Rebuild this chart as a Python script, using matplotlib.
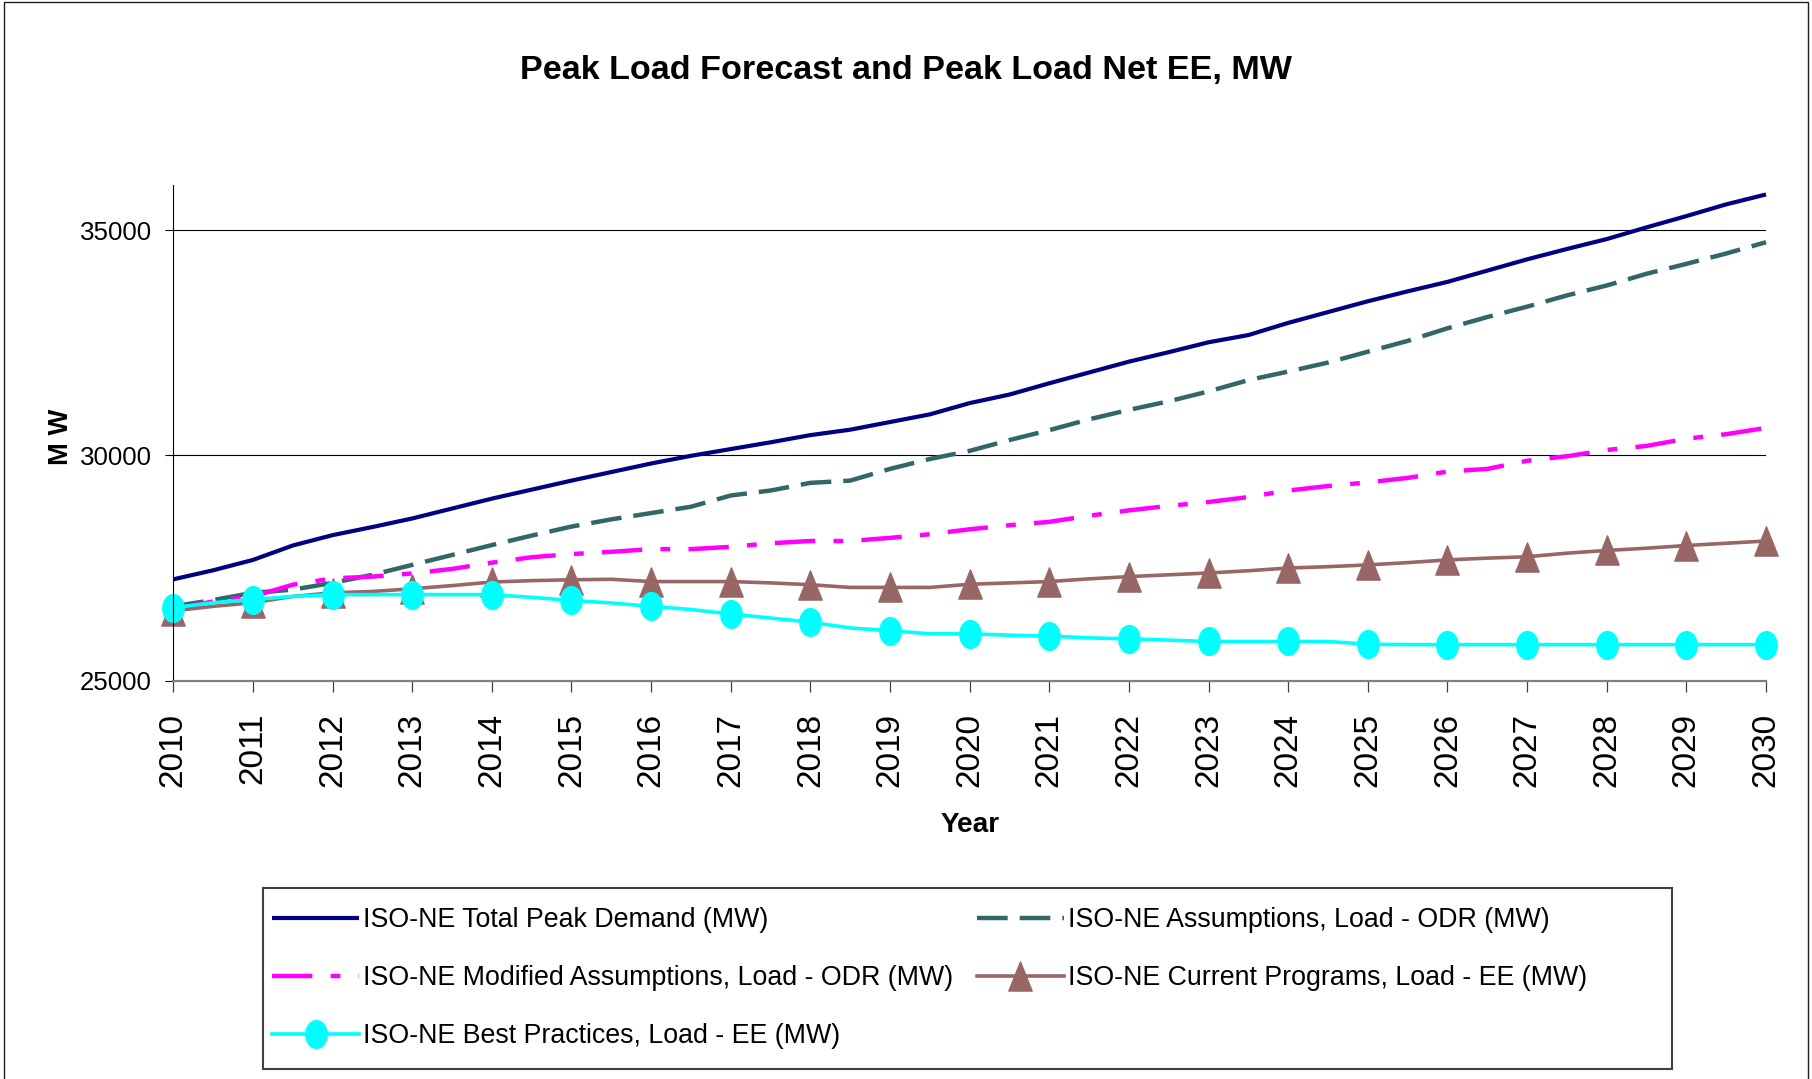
import numpy as np
import matplotlib
matplotlib.use("Agg")
import matplotlib.pyplot as plt
from matplotlib import font_manager as fm
from matplotlib.path import Path
from matplotlib.transforms import Affine2D
from matplotlib.patches import Rectangle

# ---------------- data ----------------
year_ticks = list(range(2010, 2031))
periods = np.arange(2010, 2030.5, 0.5)   # half-year category positions

total_peak = [27250, 27450, 27680, 28000, 28230, 28410, 28600, 28820, 29040, 29240,
              29440, 29630, 29820, 29990, 30140, 30290, 30450, 30570, 30740, 30910,
              31160, 31350, 31600, 31840, 32080, 32290, 32510, 32670, 32940, 33180,
              33420, 33640, 33850, 34100, 34350, 34580, 34800, 35060, 35310, 35570, 35790]

assumptions_odr = [26650, 26790, 26950, 27020, 27170, 27350, 27570, 27790, 28010, 28220,
                   28420, 28580, 28720, 28860, 29110, 29220, 29390, 29440, 29700, 29920,
                   30100, 30340, 30560, 30800, 31010, 31200, 31420, 31670, 31860, 32060,
                   32300, 32540, 32820, 33070, 33300, 33550, 33770, 34030, 34250, 34480, 34730]

modified_odr = [26580, 26760, 26870, 27130, 27270, 27310, 27380, 27480, 27620, 27740,
                27810, 27860, 27920, 27920, 27970, 28050, 28100, 28100, 28170, 28250,
                28360, 28450, 28525, 28660, 28780, 28880, 28965, 29075, 29220, 29320,
                29400, 29500, 29640, 29700, 29880, 29980, 30120, 30210, 30370, 30470, 30610]

current_ee = [26550, 26650, 26730, 26870, 26950, 26980, 27040, 27110, 27190, 27220,
              27240, 27250, 27200, 27200, 27200, 27170, 27130, 27070, 27070, 27070,
              27140, 27170, 27200, 27260, 27310, 27350, 27390, 27440, 27500, 27530,
              27570, 27620, 27680, 27720, 27750, 27830, 27890, 27940, 28000, 28050, 28100]

best_ee = [26620, 26730, 26800, 26870, 26910, 26910, 26910, 26910, 26910, 26850,
           26780, 26725, 26650, 26580, 26480, 26390, 26300, 26170, 26110, 26040,
           26040, 26010, 25990, 25950, 25930, 25900, 25870, 25870, 25870, 25870,
           25810, 25800, 25800, 25800, 25800, 25800, 25800, 25800, 25800, 25800, 25800]

labels = ["ISO-NE Total Peak Demand (MW)",
          "ISO-NE Assumptions, Load - ODR (MW)",
          "ISO-NE Modified Assumptions, Load - ODR (MW)",
          "ISO-NE Current Programs, Load - EE (MW)",
          "ISO-NE Best Practices, Load - EE (MW)"]

y_ticks = [25000, 30000, 35000]

# ---------------- fonts ----------------
names = {f.name for f in fm.fontManager.ttflist}
if "Liberation Sans Narrow" in names:
    NARROW, K = "Liberation Sans Narrow", 1.0
elif "Arial Narrow" in names:
    NARROW, K = "Arial Narrow", 1.0
else:
    NARROW, K = "Liberation Sans", 0.82
REG = "Liberation Sans" if "Liberation Sans" in names else "DejaVu Sans"

W, H = 1812, 1079
fig = plt.figure(figsize=(W / 100, H / 100), dpi=100)

def fx(px):
    return px / W

def fy(py):
    return 1 - py / H

ax = fig.add_axes([fx(173.3), fy(680.7), fx(1766) - fx(173.3), fy(185) - fy(680.7)])

# markers
ellipse = Path.unit_circle().transformed(Affine2D().scale(0.77, 1.0))
tri = Path([(0, 1), (-0.8, -1), (0.8, -1), (0, 1)],
           [Path.MOVETO, Path.LINETO, Path.LINETO, Path.CLOSEPOLY])

l1, = ax.plot(periods, total_peak, color="#000080", lw=3.0, solid_capstyle="butt",
              label=labels[0])
l2, = ax.plot(periods, assumptions_odr, color="#336666", lw=3.2,
              linestyle=(0, (6.9, 2.7)), dash_capstyle="butt", label=labels[1])
l3, = ax.plot(periods, modified_odr, color="#FF00FF", lw=3.2,
              linestyle=(0, (9.1, 4.1, 2.2, 4.1)), dash_capstyle="butt", label=labels[2])
l4, = ax.plot(periods, current_ee, color="#996666", lw=2.6, marker=tri, markersize=21,
              markevery=2, markerfacecolor="#996666", markeredgecolor="#996666",
              label=labels[3])
l5, = ax.plot(periods, best_ee, color="#00FFFF", lw=2.6, marker=ellipse, markersize=20,
              markevery=2, markerfacecolor="#00FFFF", markeredgecolor="#00FFFF",
              label=labels[4])
for ln in (l1, l2, l3, l4, l5):
    ln.set_clip_on(False)

ax.set_xlim(2010, 2030)
ax.set_ylim(25000, 36000)

ax.set_yticks(y_ticks)
ax.set_yticklabels([str(v) for v in y_ticks], fontsize=22.7 * K, family=NARROW)
ax.set_xticks(year_ticks)
ax.set_xticklabels([str(v) for v in year_ticks], rotation=90, fontsize=24, family=REG)

ax.tick_params(axis="y", direction="out", length=6, width=0.8, color="black", pad=9.4)
ax.tick_params(axis="x", direction="out", length=8, width=0.9, color="#404040", pad=15)

ax.grid(axis="y", color="black", lw=0.8)
ax.set_axisbelow(True)
for s in ("top", "right"):
    ax.spines[s].set_visible(False)
ax.spines["left"].set_color("black")
ax.spines["left"].set_linewidth(0.8)
ax.spines["bottom"].set_color("#808080")
ax.spines["bottom"].set_linewidth(1.6)

# titles / labels
fig.text(0.5, fy(79), "Peak Load Forecast and Peak Load Net EE, MW",
         ha="center", va="baseline", fontsize=30 * K, fontweight="bold", family=NARROW)
fig.text(fx(970), fy(832), "Year", ha="center", va="baseline",
         fontsize=24.5 * K, fontweight="bold", family=NARROW)
fig.text(fx(68), fy(437), "M W", ha="center", va="baseline", rotation=90,
         rotation_mode="anchor", fontsize=24 * K, fontweight="bold", family=NARROW)

# figure border
fig.patches.append(Rectangle((fx(4), -0.05), fx(1808) - fx(4), 1.05 - 1.5 / H,
                             transform=fig.transFigure, fill=False, ec="#202020",
                             lw=1.0, clip_on=False))

# legend box
fig.patches.append(Rectangle((fx(263), fy(1069)), fx(1672) - fx(263), fy(888) - fy(1069),
                             transform=fig.transFigure, fill=False, ec="#404040",
                             lw=1.5, clip_on=False))

handles = [l1, l3, l5, l2, l4]
fs_leg = 23.5 * K
fs_px = fs_leg * 100 / 72
leg = fig.legend(handles=handles, labels=[h.get_label() for h in handles],
                 loc="upper left", bbox_to_anchor=(fx(272), fy(907)),
                 bbox_transform=fig.transFigure, ncol=2, frameon=False,
                 borderpad=0, borderaxespad=0, numpoints=1,
                 handlelength=87 / fs_px, handletextpad=0.14,
                 columnspacing=24 / fs_px, labelspacing=1.2,
                 prop={"family": NARROW, "size": fs_leg})

fig.savefig("out.png", dpi=100)
